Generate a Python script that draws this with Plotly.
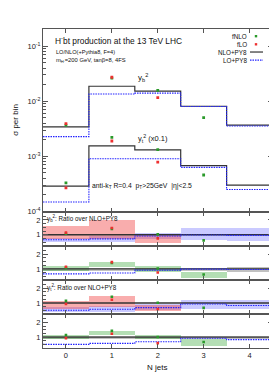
import plotly.graph_objects as go

# ---------------- data (as plotted) ----------------
njets = [0, 1, 2, 3, 4]
bin_edges = [-0.5, 0.5, 1.5, 2.5, 3.5, 4.5]

# y_b^2 contribution
yb_nlo_py8 = [0.00344, 0.0187, 0.0153, 0.0081, 0.0037]
yb_lo_py8 = [0.00228, 0.0135, 0.0140, 0.0080, 0.00355]
yb_fnlo = [0.0037, 0.0262, 0.0157, 0.00506]
yb_flo = [0.00394, 0.0272, 0.0116]

# y_t^2 contribution (already x0.1)
yt_nlo_py8 = [0.000288, 0.00155, 0.00131, 0.000678, 0.000301]
yt_lo_py8 = [0.000149, 0.000906, 0.000906, 0.000632, 0.000251]
yt_fnlo = [0.000330, 0.00221, 0.00133, 0.000459]
yt_flo = [0.000269, 0.00190, 0.000787]

# uncertainty bands in ratio panels (low, high)
yb_flo_band_lo = [0.75, 0.70, 0.45]
yb_flo_band_hi = [1.60, 2.00, 1.10]
yb_lo_band_lo = [0.50, 0.55, 0.70, 0.65, 0.62]
yb_lo_band_hi = [0.80, 0.90, 1.15, 1.45, 1.50]
yb_fnlo_band_lo = [0.87, 1.12, 0.82, 0.37]
yb_fnlo_band_hi = [1.19, 1.47, 1.17, 0.81]
yb_nlo_band_lo = [0.88, 0.88, 0.85, 0.85, 0.82]
yb_nlo_band_hi = [1.10, 1.10, 1.10, 1.10, 1.11]

yt_flo_band_lo = [0.62, 0.76, 0.45]
yt_flo_band_hi = [1.15, 1.49, 0.85]
yt_lo_band_lo = [0.38, 0.42, 0.50, 0.60, 0.60]
yt_lo_band_hi = [0.70, 0.78, 0.95, 1.20, 1.22]
yt_fnlo_band_lo = [0.87, 1.15, 0.87, 0.42]
yt_fnlo_band_hi = [1.13, 1.42, 1.13, 0.87]
yt_nlo_band_lo = [0.88, 0.88, 0.85, 0.85, 0.85]
yt_nlo_band_hi = [1.10, 1.10, 1.10, 1.10, 1.10]

main_ticks = [1e-4, 1e-3, 1e-2, 1e-1]
main_ticktext = ["10<sup>-4</sup>", "10<sup>-3</sup>", "10<sup>-2</sup>", "10<sup>-1</sup>"]
ratio_ticks = [1, 2]

# ---------------- styling ----------------
W, H = 277, 372
FONT = "Liberation Sans, Arial, Helvetica, sans-serif"
C_NLO = "#333333"
C_LO = "#2222ff"
C_FNLO = "#2a9a2a"
C_FLO = "#ee3030"
B_RED = "rgba(240,50,50,0.40)"
B_BLUE = "rgba(80,80,255,0.30)"
B_GREEN = "rgba(40,160,40,0.35)"
B_GRAY = "rgba(100,100,100,0.40)"
LO_DASH = "1.5px,1px"


def fx(p):
    return p / W


def fy(p):
    return 1 - p / H


X_DOM = [fx(35), fx(264.5)]
panel_px = [21, 206, 240.5, 275, 309.5, 344]

fig = go.Figure()


def step(vals):
    return list(vals) + [vals[-1]]


def add_step(vals, color, dash, xa, ya, width=1.2):
    fig.add_trace(go.Scatter(x=bin_edges, y=step(vals), mode="lines",
                             line=dict(color=color, dash=dash, width=width, shape="hv"),
                             xaxis=xa, yaxis=ya, showlegend=False, hoverinfo="skip"))


def add_pts(vals, color, xa, ya, size=2.8):
    fig.add_trace(go.Scatter(x=njets[:len(vals)], y=vals, mode="markers",
                             marker=dict(color=color, symbol="square", size=size, line=dict(width=0)),
                             xaxis=xa, yaxis=ya, showlegend=False, hoverinfo="skip"))


def add_band(lo, hi, color, xa, ya):
    n = len(lo)
    fig.add_trace(go.Bar(x=njets[:n], y=[h - l for l, h in zip(lo, hi)], base=lo, width=1.0,
                         marker=dict(color=color, line=dict(width=0)),
                         xaxis=xa, yaxis=ya, showlegend=False, hoverinfo="skip"))


# main panel
add_step(yb_nlo_py8, C_NLO, "solid", "x", "y")
add_step(yb_lo_py8, C_LO, LO_DASH, "x", "y", width=1.1)
add_step(yt_nlo_py8, C_NLO, "solid", "x", "y")
add_step(yt_lo_py8, C_LO, LO_DASH, "x", "y", width=1.1)
add_pts(yb_fnlo, C_FNLO, "x", "y")
add_pts(yb_flo, C_FLO, "x", "y")
add_pts(yt_fnlo, C_FNLO, "x", "y")
add_pts(yt_flo, C_FLO, "x", "y")


def ratio(a, b):
    return [x / y for x, y in zip(a, b)]


def ratio_panel(xa, ya, nlo, lo, fnlo, flo, kind, bands):
    if kind == "lo":
        add_band(bands[0], bands[1], B_BLUE, xa, ya)
        add_band(bands[2], bands[3], B_RED, xa, ya)
    else:
        add_band(bands[0], bands[1], B_GRAY, xa, ya)
        add_band(bands[2], bands[3], B_GREEN, xa, ya)
    add_step(ratio(nlo, nlo), C_NLO, "solid", xa, ya, width=1.4)
    add_step(ratio(lo, nlo), C_LO, LO_DASH, xa, ya, width=1.1)
    add_pts(ratio(fnlo, nlo), C_FNLO, xa, ya, size=2.6)
    add_pts(ratio(flo, nlo), C_FLO, xa, ya, size=2.6)


ratio_panel("x2", "y2", yb_nlo_py8, yb_lo_py8, yb_fnlo, yb_flo, "lo",
            [yb_lo_band_lo, yb_lo_band_hi, yb_flo_band_lo, yb_flo_band_hi])
ratio_panel("x3", "y3", yb_nlo_py8, yb_lo_py8, yb_fnlo, yb_flo, "nlo",
            [yb_nlo_band_lo, yb_nlo_band_hi, yb_fnlo_band_lo, yb_fnlo_band_hi])
ratio_panel("x4", "y4", yt_nlo_py8, yt_lo_py8, yt_fnlo, yt_flo, "lo",
            [yt_lo_band_lo, yt_lo_band_hi, yt_flo_band_lo, yt_flo_band_hi])
ratio_panel("x5", "y5", yt_nlo_py8, yt_lo_py8, yt_fnlo, yt_flo, "nlo",
            [yt_nlo_band_lo, yt_nlo_band_hi, yt_fnlo_band_lo, yt_fnlo_band_hi])

# ---------------- axes ----------------
tickfont = dict(family=FONT, size=7.5, color="#222222")
axis_common = dict(showline=True, linecolor="#555555", linewidth=1, mirror="allticks",
                   ticks="inside", tickcolor="#555555", showgrid=False, zeroline=False,
                   tickfont=tickfont)

minor_vals = [m * 10 ** e for e in (-4, -3, -2, -1) for m in range(2, 10)]

layout = dict(
    width=W, height=H, autosize=False,
    margin=dict(l=0, r=0, t=0, b=0),
    paper_bgcolor="white", plot_bgcolor="white",
    barmode="overlay", bargap=0,
    showlegend=False,
)

for i in range(5):
    xs = "xaxis" if i == 0 else f"xaxis{i + 1}"
    ys = "yaxis" if i == 0 else f"yaxis{i + 1}"
    xa_id = "x" if i == 0 else f"x{i + 1}"
    ya_id = "y" if i == 0 else f"y{i + 1}"
    dom = [fy(panel_px[i + 1]), fy(panel_px[i])]
    layout[xs] = dict(axis_common, domain=X_DOM, anchor=ya_id, range=[-0.5, 4.5],
                      tickvals=njets, ticklen=4, showticklabels=(i == 4))
    if i == 0:
        layout[ys] = dict(axis_common, domain=dom, anchor=xa_id, type="log",
                          range=[-4.005, -0.686], tickvals=main_ticks, ticktext=main_ticktext,
                          ticklen=5,
                          minor=dict(ticks="inside", tickvals=minor_vals, ticklen=2.5,
                                     tickcolor="#555555"))
    else:
        layout[ys] = dict(axis_common, domain=dom, anchor=xa_id, range=[0.25, 2.55],
                          tickvals=ratio_ticks, ticklen=5,
                          minor=dict(ticks="inside", dtick=0.25, tick0=0, ticklen=2.5,
                                     tickcolor="#555555"))

fig.update_layout(**layout)

# ---------------- text ----------------
ann = []


def text(x, y, s, size, xanchor="left", yanchor="middle", color="#111111", angle=0):
    ann.append(dict(x=fx(x), y=fy(y), xref="paper", yref="paper", text=s, showarrow=False,
                    xanchor=xanchor, yanchor=yanchor, textangle=angle,
                    font=dict(family=FONT, size=size, color=color)))


text(45, 33, "H<sup>-</sup>bt production at the 13 TeV LHC", 8.4)
text(45.5, 44.5, "LO/NLO(+Pythia8, F=4)", 5.6)
text(45.5, 53.5, "m<sub>H<sup>-</sup></sub>=200 GeV, tanβ=8, 4FS", 5.8)
text(128, 70, "y<sub>b</sub><sup>2</sup>", 8)
text(128, 132, "y<sub>t</sub><sup>2</sup> (x0.1)", 7.5)
text(82, 180, "anti-k<sub>T</sub> R=0.4  p<sub>T</sub>>25GeV  |η|<2.5", 6.8)
text(36.5, 213, "y<sub>b</sub><sup>2</sup>: Ratio over NLO+PY8", 6.3)
text(36.5, 282.5, "y<sub>t</sub><sup>2</sup>: Ratio over NLO+PY8", 6.3)
text(267, 170, "MadGraph5_aMC@NLO", 5, xanchor="center", color="#555555", angle=-90)
text(8, 113, "σ per bin", 8, xanchor="center", angle=-90)
text(149, 363, "N jets", 8, xanchor="center")

# legend (text right-aligned, symbol to the right)
leg_rows = [("fNLO", 28.5), ("fLO", 36.7), ("NLO+PY8", 44.5), ("LO+PY8", 52.7)]
for lbl, yy in leg_rows:
    text(241, yy, lbl, 6.3, xanchor="right")

shapes = []
for col, yy in ((C_FNLO, 28.5), (C_FLO, 36.7)):
    shapes.append(dict(type="rect", xref="paper", yref="paper",
                       x0=fx(246.8), x1=fx(249.2), y0=fy(yy + 1.2), y1=fy(yy - 1.2),
                       fillcolor=col, line=dict(width=0)))
shapes.append(dict(type="line", xref="paper", yref="paper", x0=fx(242), x1=fx(255),
                   y0=fy(44.5), y1=fy(44.5), line=dict(color=C_NLO, width=1.2)))
shapes.append(dict(type="line", xref="paper", yref="paper", x0=fx(242), x1=fx(255),
                   y0=fy(52.7), y1=fy(52.7), line=dict(color=C_LO, width=1.1, dash=LO_DASH)))

fig.update_layout(annotations=ann, shapes=shapes)

fig.write_html("out.html")
